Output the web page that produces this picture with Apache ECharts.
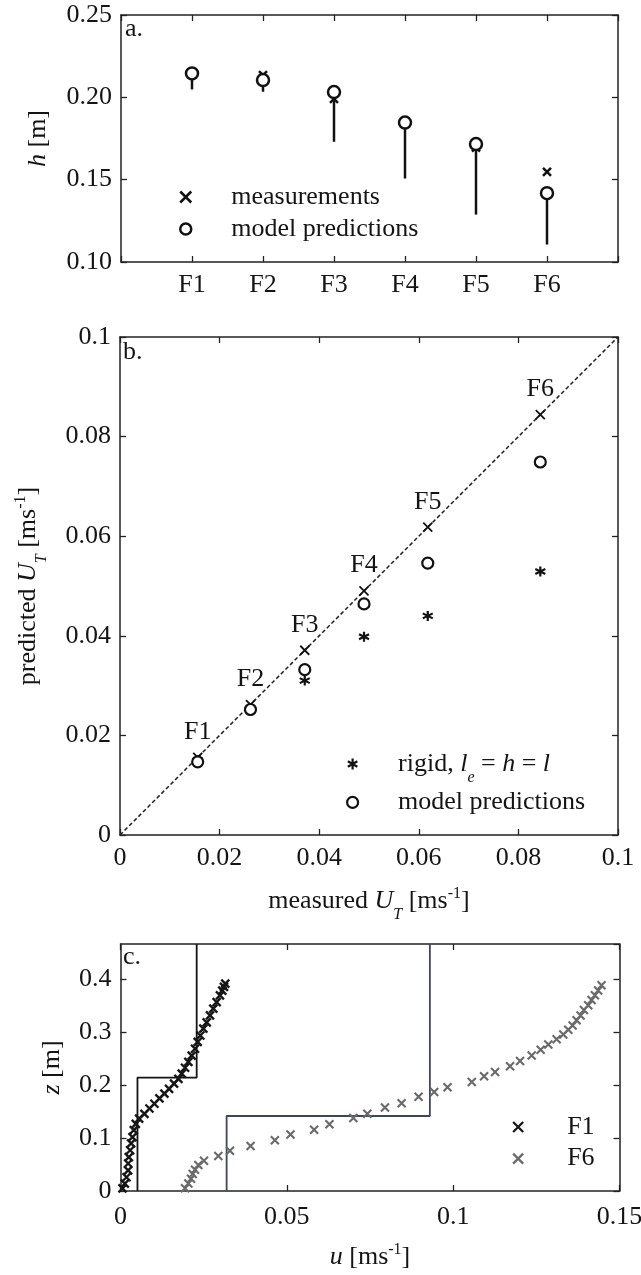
<!DOCTYPE html>
<html>
<head>
<meta charset="utf-8">
<title>h, U_T and velocity profiles</title>
<script src="https://cdn.jsdelivr.net/npm/echarts@6/dist/echarts.min.js"></script>
<style>
  html, body { margin: 0; padding: 0; background: #fff; }
  #chart { width: 641px; height: 1275px; }
</style>
</head>
<body>
<div id="chart"></div>
<script>
// cases
const caseNames = ['F1', 'F2', 'F3', 'F4', 'F5', 'F6'];

// panel a: h [m]
const hMeasured = [0.2145, 0.2135, 0.1990, 0.1845, 0.1695, 0.1547];
const hModel = [0.2145, 0.2105, 0.2032, 0.1847, 0.1716, 0.1418];
const hLower = [0.2048, 0.2034, 0.1730, 0.1507, 0.1288, 0.1106];

// panel b: U_T [m/s]
const utMeasured = [0.0156, 0.0262, 0.0371, 0.0490, 0.0618, 0.0844];
const utModel = [0.0147, 0.0252, 0.0332, 0.0464, 0.0546, 0.0749];
const utRigid = [0.0150, 0.0250, 0.0310, 0.0398, 0.0440, 0.0529];
const oneToOne = [[0, 0], [0.1, 0.1]];

// panel c: u [m/s] vs z [m]
const f1Profile = [
  [0.0006, 0.005], [0.0013, 0.014], [0.0018, 0.026], [0.0023, 0.039], [0.0023, 0.052],
  [0.0025, 0.064], [0.0029, 0.077], [0.0032, 0.090], [0.0036, 0.102], [0.0040, 0.115],
  [0.0046, 0.127], [0.0056, 0.137], [0.0072, 0.146], [0.0087, 0.156], [0.0102, 0.165],
  [0.0117, 0.175], [0.0132, 0.184], [0.0146, 0.193], [0.0161, 0.203], [0.0174, 0.212],
  [0.0184, 0.222], [0.0194, 0.233], [0.0204, 0.244], [0.0214, 0.256], [0.0224, 0.269],
  [0.0232, 0.282], [0.0240, 0.294], [0.0249, 0.307], [0.0259, 0.319], [0.0269, 0.332],
  [0.0279, 0.345], [0.0289, 0.357], [0.0299, 0.370], [0.0306, 0.379], [0.0311, 0.386],
  [0.0315, 0.392]
];
const f6Profile = [
  [0.0194, 0.005], [0.0204, 0.014], [0.0212, 0.023], [0.0217, 0.032], [0.0224, 0.040],
  [0.0234, 0.049], [0.0251, 0.057], [0.0294, 0.066], [0.0329, 0.076], [0.0391, 0.085],
  [0.0464, 0.096], [0.0511, 0.107], [0.0582, 0.116], [0.0628, 0.126], [0.0700, 0.138],
  [0.0742, 0.146], [0.0795, 0.158], [0.0845, 0.166], [0.0896, 0.178], [0.0943, 0.187],
  [0.0983, 0.196], [0.1056, 0.206], [0.1093, 0.217], [0.1126, 0.225], [0.1171, 0.236],
  [0.1201, 0.246], [0.1236, 0.256], [0.1263, 0.267], [0.1286, 0.277], [0.1311, 0.287],
  [0.1331, 0.296], [0.1346, 0.305], [0.1359, 0.313], [0.1371, 0.323], [0.1383, 0.332],
  [0.1393, 0.342], [0.1406, 0.351], [0.1416, 0.361], [0.1426, 0.370], [0.1436, 0.379],
  [0.1446, 0.389]
];
const f1Step = [[0.0051, 0], [0.0051, 0.2144], [0.0229, 0.2144], [0.0229, 0.467]];
const f6Step = [[0.0319, 0], [0.0319, 0.1418], [0.0930, 0.1418], [0.0930, 0.467]];

const FONT = 'Liberation Serif';
const INK = '#141414';
const FRAME = '#222';
const X_PATH = 'path://M0,0L10,10M10,0L0,10';
const STAR_PATH = 'path://M5,0L5,10M0.67,2.5L9.33,7.5M0.67,7.5L9.33,2.5';

const rich = {
  n: { fontFamily: FONT, fontSize: 26, color: INK, lineHeight: 44 },
  i: { fontFamily: FONT, fontSize: 26, color: INK, lineHeight: 44, fontStyle: 'italic' },
  sub: { fontFamily: FONT, fontSize: 16, color: INK, fontStyle: 'italic', verticalAlign: 'bottom' },
  sup: { fontFamily: FONT, fontSize: 16, color: INK, height: 30, verticalAlign: 'top' }
};
const legendText = {
  aMeas: 'measurements',
  aModel: 'model predictions',
  bRigid: '{n|rigid, }{i|l}{sub|e}{n| = }{i|h}{n| = }{i|l}',
  bModel: '{n|model predictions}',
  cF1: 'F1',
  cF6: 'F6'
};

// one axis for the labelled side and a mirrored one for the ticks on the opposite side
function axisPair(dim, gridIndex, range, label, name) {
  const base = {
    type: 'value', gridIndex: gridIndex,
    min: range[0], max: range[1], interval: range[2],
    splitLine: { show: false },
    axisLine: { show: true, onZero: false, lineStyle: { color: FRAME, width: 1.5 } },
    axisTick: { show: true, inside: true, length: 6, lineStyle: { color: FRAME, width: 1.3 } }
  };
  const main = Object.assign({}, base, {
    position: dim === 'x' ? 'bottom' : 'left',
    axisLabel: Object.assign({ fontFamily: FONT, fontSize: 26, color: INK }, label)
  }, name || {});
  const mirror = Object.assign({}, base, {
    position: dim === 'x' ? 'top' : 'right',
    axisLabel: { show: false }
  });
  return [main, mirror];
}

const gridBase = { outerBoundsMode: 'none', containLabel: false };

const xAxes = [].concat(
  axisPair('x', 0, [0, 7, 1], {
    margin: 10,
    formatter: v => (v >= 1 && v <= caseNames.length) ? caseNames[v - 1] : ''
  }),
  axisPair('x', 1, [0, 0.1, 0.02], { margin: 10, showMaxLabel: true }, {
    name: '{n|measured }{i|U}{sub|T}{n| [ms}{sup|-1}{n|]}',
    nameLocation: 'middle', nameGap: 44, nameTextStyle: { rich: rich }
  }),
  axisPair('x', 2, [0, 0.15, 0.05], { margin: 13 }, {
    name: '{i|u}{n| [ms}{sup|-1}{n|]}',
    nameLocation: 'middle', nameGap: 44, nameTextStyle: { rich: rich }
  })
);

const yAxes = [].concat(
  axisPair('y', 0, [0.10, 0.25, 0.05], { margin: 9, formatter: v => v.toFixed(2) }, {
    name: '{i|h}{n| [m]}', nameLocation: 'middle', nameRotate: 90, nameGap: 61,
    nameTextStyle: { rich: rich }
  }),
  axisPair('y', 1, [0, 0.1, 0.02], { margin: 9 }, {
    name: '{n|predicted }{i|U}{sub|T}{n| [ms}{sup|-1}{n|]}', nameLocation: 'middle',
    nameRotate: 90, nameGap: 70, nameTextStyle: { rich: rich }
  }),
  axisPair('y', 2, [0, 0.467, 0.1], {
    margin: 9, showMaxLabel: false,
    formatter: v => Math.abs(v * 10 - Math.round(v * 10)) < 1e-6 ? String(Math.round(v * 10) / 10) : ''
  }, {
    name: '{i|z}{n| [m]}', nameLocation: 'middle', nameRotate: 90, nameGap: 46,
    nameTextStyle: { rich: rich }
  })
);

const legendTextStyle = { fontFamily: FONT, fontSize: 26, color: INK, lineHeight: 30 };

function marker(symbol, size, fill, stroke, width) {
  return {
    symbol: symbol, symbolSize: size,
    itemStyle: { color: fill, borderColor: stroke, borderWidth: width, opacity: 1 }
  };
}

const option = {
  animation: false,
  backgroundColor: '#fff',
  grid: [
    Object.assign({ left: 121, top: 15, width: 497, height: 247 }, gridBase),
    Object.assign({ left: 120, top: 337, width: 498, height: 498 }, gridBase),
    Object.assign({ left: 120.5, top: 944, width: 499, height: 247 }, gridBase)
  ],
  xAxis: xAxes,
  yAxis: yAxes,
  graphic: [
    { type: 'text', left: 125, top: 16, style: { text: 'a.', font: '26px "Liberation Serif"', fill: INK } },
    { type: 'text', left: 123, top: 339, style: { text: 'b.', font: '26px "Liberation Serif"', fill: INK } },
    { type: 'text', left: 123, top: 944, style: { text: 'c.', font: '26px "Liberation Serif"', fill: INK } }
  ],
  legend: [
    {
      data: ['aMeas', 'aModel'], orient: 'vertical', left: 179, top: 182, padding: 0,
      itemGap: 2, itemWidth: 11, itemHeight: 11, selectedMode: false,
      formatter: n => legendText[n],
      itemStyle: { borderWidth: 2.5 },
      textStyle: Object.assign({ padding: [0, 0, 0, 35] }, legendTextStyle)
    },
    {
      data: ['bRigid', 'bModel'], orient: 'vertical', left: 346, top: 751, padding: 0,
      itemGap: 3.4, itemWidth: 11, itemHeight: 11, selectedMode: false,
      formatter: n => legendText[n],
      itemStyle: { borderWidth: 2.2 },
      textStyle: { fontFamily: FONT, fontSize: 26, color: INK, rich: rich, padding: [0, 0, 0, 35] }
    },
    {
      data: ['cF1', 'cF6'], orient: 'vertical', left: 512, top: 1112, padding: 0,
      itemGap: 1.6, itemWidth: 10, itemHeight: 10, selectedMode: false,
      formatter: n => legendText[n],
      itemStyle: { borderWidth: 2.3 },
      textStyle: Object.assign({ padding: [0, 0, 0, 39] }, legendTextStyle)
    }
  ],
  series: [
    // panel a
    {
      type: 'custom', name: 'aRange', xAxisIndex: 0, yAxisIndex: 0, z: 2,
      data: caseNames.map((n, i) => [i + 1, hModel[i], hLower[i]]),
      encode: { x: 0, y: [1, 2] },
      renderItem: (params, api) => {
        const top = api.coord([api.value(0), api.value(1)]);
        const bottom = api.coord([api.value(0), api.value(2)]);
        return {
          type: 'line',
          shape: { x1: top[0], y1: top[1], x2: bottom[0], y2: bottom[1] },
          style: { stroke: '#111', lineWidth: 2.5 }
        };
      }
    },
    Object.assign({
      type: 'scatter', name: 'aMeas', xAxisIndex: 0, yAxisIndex: 0, z: 3,
      data: caseNames.map((n, i) => [i + 1, hMeasured[i]])
    }, marker(X_PATH, 8, 'transparent', '#111', 2.5)),
    Object.assign({
      type: 'scatter', name: 'aModel', xAxisIndex: 0, yAxisIndex: 0, z: 4,
      data: caseNames.map((n, i) => [i + 1, hModel[i]])
    }, marker('circle', 12, '#fff', '#111', 2.5)),
    // panel b
    {
      type: 'line', name: 'bDiag', xAxisIndex: 2, yAxisIndex: 2, z: 1,
      data: oneToOne, symbol: 'none',
      lineStyle: { color: '#222', width: 1.5, type: [4, 2.5] }
    },
    Object.assign({
      type: 'scatter', name: 'bMeas', xAxisIndex: 2, yAxisIndex: 2, z: 2,
      label: {
        show: true, position: 'top', distance: 7, opacity: 1,
        formatter: p => caseNames[p.dataIndex],
        fontFamily: FONT, fontSize: 26, color: INK
      },
      data: utMeasured.map(v => [v, v])
    }, marker(X_PATH, 9, 'transparent', '#111', 1.8)),
    Object.assign({
      type: 'scatter', name: 'bRigid', xAxisIndex: 2, yAxisIndex: 2, z: 3,
      data: utMeasured.map((v, i) => [v, utRigid[i]])
    }, marker(STAR_PATH, 10, 'transparent', '#111', 2.2)),
    Object.assign({
      type: 'scatter', name: 'bModel', xAxisIndex: 2, yAxisIndex: 2, z: 4,
      data: utMeasured.map((v, i) => [v, utModel[i]])
    }, marker('circle', 11, '#fff', '#111', 2.2)),
    // panel c
    {
      type: 'line', name: 'cF1Step', xAxisIndex: 4, yAxisIndex: 4, z: 2,
      data: f1Step, symbol: 'none',
      lineStyle: { color: '#141414', width: 1.8 }
    },
    {
      type: 'line', name: 'cF6Step', xAxisIndex: 4, yAxisIndex: 4, z: 2,
      data: f6Step, symbol: 'none',
      lineStyle: { color: '#3f4757', width: 1.8 }
    },
    Object.assign({
      type: 'scatter', name: 'cF1', xAxisIndex: 4, yAxisIndex: 4, z: 3,
      data: f1Profile
    }, marker(X_PATH, 8, 'transparent', '#161616', 2.4)),
    Object.assign({
      type: 'scatter', name: 'cF6', xAxisIndex: 4, yAxisIndex: 4, z: 3,
      data: f6Profile
    }, marker(X_PATH, 8, 'transparent', '#6a6a6a', 2.1))
  ]
};

const chart = echarts.init(document.getElementById('chart'), null, { renderer: 'canvas' });
chart.setOption(option);
</script>
</body>
</html>
